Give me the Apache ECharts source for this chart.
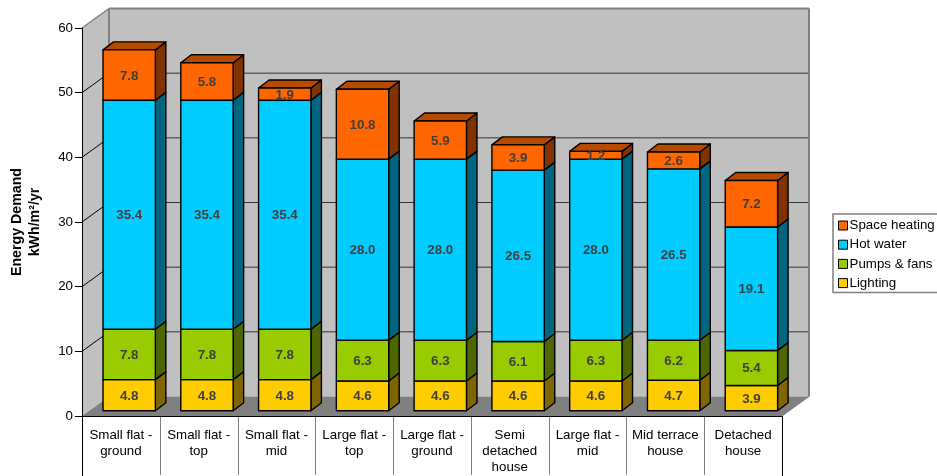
<!DOCTYPE html>
<html>
<head>
<meta charset="utf-8">
<style>html,body{margin:0;padding:0;background:#fff}#chart{width:937px;height:476px}</style>
<script src="https://cdn.jsdelivr.net/npm/echarts@6/dist/echarts.min.js"></script>
</head>
<body>
<div id="chart"></div>
<script>
// Dwelling types along the horizontal axis
const categories = [
  'Small flat -\nground', 'Small flat -\ntop', 'Small flat -\nmid',
  'Large flat -\ntop', 'Large flat -\nground', 'Semi\ndetached\nhouse',
  'Large flat -\nmid', 'Mid terrace\nhouse', 'Detached\nhouse'
];
// Energy demand per end use, kWh/m²/yr
const lighting     = [4.8, 4.8, 4.8, 4.6, 4.6, 4.6, 4.6, 4.7, 3.9];
const pumpsFans    = [7.8, 7.8, 7.8, 6.3, 6.3, 6.1, 6.3, 6.2, 5.4];
const hotWater     = [35.4, 35.4, 35.4, 28.0, 28.0, 26.5, 28.0, 26.5, 19.1];
const spaceHeating = [7.8, 5.8, 1.9, 10.8, 5.9, 3.9, 1.2, 2.6, 7.2];
const yTicks = [0, 10, 20, 30, 40, 50, 60];

// Oblique projection of the pseudo-3D box (pixels)
const WALL_DX = 27, WALL_DY = 19.5;
const BAR_SHIFT_X = 8.3, BAR_SHIFT_Y = 5.3;
const BAR_DX = 10.5, BAR_DY = 8;
const BAR_RATIO = 0.673;
const FONT = '"Liberation Sans", Arial, sans-serif';

const layers = [
  { name: 'Lighting',      values: lighting,     front: '#FFCC00', side: '#806600', top: '#BF9900' },
  { name: 'Pumps & fans',  values: pumpsFans,    front: '#99CC00', side: '#4D6600', top: '#739900' },
  { name: 'Hot water',     values: hotWater,     front: '#00CCFF', side: '#006680', top: '#0099BF' },
  { name: 'Space heating', values: spaceHeating, front: '#FF6600', side: '#803300', top: '#B84A00' }
];

// Walls, floor, gridlines and the category separators below the axis
function renderFrame(params, api) {
  const band = api.size([1, 0])[0];
  const x0 = api.coord([0, 0])[0] - band / 2;
  const x1 = api.coord([categories.length - 1, 0])[0] + band / 2;
  const yb = api.coord([0, 0])[1];
  const yt = api.coord([0, yTicks[yTicks.length - 1]])[1];
  const bx0 = x0 + WALL_DX, bx1 = x1 + WALL_DX;
  const poly = (points, fill) => ({
    type: 'polygon', shape: { points }, style: { fill }
  });
  const line = (a, b, stroke, w) => ({
    type: 'line', shape: { x1: a[0], y1: a[1], x2: b[0], y2: b[1] }, style: { stroke, lineWidth: w }
  });
  const kids = [
    poly([[bx0, yt - WALL_DY], [bx1, yt - WALL_DY], [bx1, yb - WALL_DY], [bx0, yb - WALL_DY]], '#C0C0C0'),
    poly([[x0, yt], [bx0, yt - WALL_DY], [bx0, yb - WALL_DY], [x0, yb]], '#C0C0C0'),
    poly([[x0, yb], [bx0, yb - WALL_DY], [bx1, yb - WALL_DY], [x1, yb]], '#808080')
  ];
  yTicks.slice(1, -1).forEach(t => {
    const y = api.coord([0, t])[1];
    kids.push(line([x0, y], [bx0, y - WALL_DY], '#000', 1));
    kids.push(line([bx0, y - WALL_DY], [bx1, y - WALL_DY], '#333', 1));
  });
  kids.push(line([x0, yt], [bx0, yt - WALL_DY], '#808080', 1.5));
  kids.push(line([bx0, yt - WALL_DY], [bx1, yt - WALL_DY], '#808080', 2));
  kids.push(line([bx0, yt - WALL_DY], [bx0, yb - WALL_DY], '#808080', 2));
  kids.push(line([bx1, yt - WALL_DY], [bx1, yb - WALL_DY], '#808080', 2));
  kids.push(line([x1, yb], [bx1, yb - WALL_DY], '#808080', 1));
  // Outer separators are black, inner ones grey
  for (let i = 0; i <= categories.length; i++) {
    const outer = i === 0 || i === categories.length;
    const x = Math.round(x0 + i * band) + 0.5;
    kids.push(line([x, yb], [x, outer ? 476 : 475], outer ? '#000' : '#808080', 1));
  }
  return { type: 'group', children: kids };
}

// One stacked block: front face, side face and (for the top layer) cap
function renderBlock(layer, isTop) {
  return function (params, api) {
    const band = api.size([1, 0])[0];
    const w = band * BAR_RATIO;
    const cx = api.coord([api.value(0), 0])[0] + BAR_SHIFT_X;
    const yLow = api.coord([0, api.value(1)])[1] - BAR_SHIFT_Y;
    const yHigh = api.coord([0, api.value(2)])[1] - BAR_SHIFT_Y;
    const l = cx - w / 2, r = cx + w / 2;
    const edge = { stroke: '#000', lineWidth: 1.4, lineJoin: 'round' };
    const kids = [
      { type: 'polygon',
        shape: { points: [[r, yLow], [r + BAR_DX, yLow - BAR_DY], [r + BAR_DX, yHigh - BAR_DY], [r, yHigh]] },
        style: Object.assign({ fill: layer.side }, edge) }
    ];
    if (isTop) {
      kids.push({ type: 'polygon',
        shape: { points: [[l, yHigh], [l + BAR_DX, yHigh - BAR_DY], [r + BAR_DX, yHigh - BAR_DY], [r, yHigh]] },
        style: Object.assign({ fill: layer.top }, edge) });
    }
    kids.push({ type: 'rect', shape: { x: l, y: yHigh, width: w, height: yLow - yHigh },
      style: Object.assign({ fill: layer.front }, edge) });
    kids.push({ type: 'text',
      style: { text: api.value(3).toFixed(1), x: cx, y: (yLow + yHigh) / 2 + 0.8,
               align: 'center', verticalAlign: 'middle',
               fill: '#404040', font: 'bold 13.33px ' + FONT } });
    return { type: 'group', children: kids };
  };
}

// Running totals turn each end use into [category, base, top, value] rows
const running = categories.map(() => 0);
const blockSeries = layers.map((layer, k) => {
  const data = layer.values.map((v, i) => {
    const base = running[i];
    running[i] = +(base + v).toFixed(2);
    return [i, base, running[i], v];
  });
  return {
    type: 'custom', name: layer.name, data,
    encode: { x: 0, y: [1, 2] },
    itemStyle: { color: layer.front },
    renderItem: renderBlock(layer, k === layers.length - 1)
  };
});

const chart = echarts.init(document.getElementById('chart'), null, { renderer: 'canvas' });
chart.setOption({
  animation: false,
  backgroundColor: '#fff',
  textStyle: { fontFamily: FONT },
  grid: { left: 82, right: 155, top: 28, bottom: 60, containLabel: false, outerBoundsMode: 'none' },
  legend: {
    left: 833, top: 214,
    orient: 'vertical',
    data: ['Space heating', 'Hot water', 'Pumps & fans', 'Lighting'],
    icon: 'rect', itemWidth: 9, itemHeight: 9, itemGap: 4.2,
    padding: [4, 4, 2, 5],
    borderColor: '#808080', borderWidth: 1.5, backgroundColor: '#fff',
    selectedMode: false,
    itemStyle: { borderColor: '#000', borderWidth: 1 },
    textStyle: { fontFamily: FONT, fontSize: 13.33, color: '#000', padding: [0, 0, 0, -3], lineHeight: 15 }
  },
  xAxis: {
    type: 'category', data: categories, z: 5,
    axisLine: { lineStyle: { color: '#000', width: 1 } },
    axisTick: { show: false },
    axisLabel: { color: '#000', fontSize: 13.33, fontFamily: FONT, lineHeight: 16, margin: 11.5, interval: 0, hideOverlap: false }
  },
  yAxis: {
    type: 'value', min: 0, max: 60, interval: 10, z: 5,
    name: 'Energy Demand\nkWh/m²/yr',
    nameLocation: 'middle', nameRotate: 90, nameGap: 38,
    nameTextStyle: { color: '#000', fontFamily: FONT, fontWeight: 'bold', fontSize: 14.2, lineHeight: 18 },
    axisLine: { show: true, lineStyle: { color: '#000', width: 1 } },
    axisTick: { show: true, length: 7, lineStyle: { color: '#000', width: 1 } },
    axisLabel: { color: '#000', fontSize: 13.33, fontFamily: FONT, margin: 9 },
    splitLine: { show: false }
  },
  series: [{
    type: 'custom', name: 'frame', data: [[0, 0]], silent: true,
    encode: { x: 0, y: 1 }, renderItem: renderFrame
  }].concat(blockSeries)
});
</script>
</body>
</html>
